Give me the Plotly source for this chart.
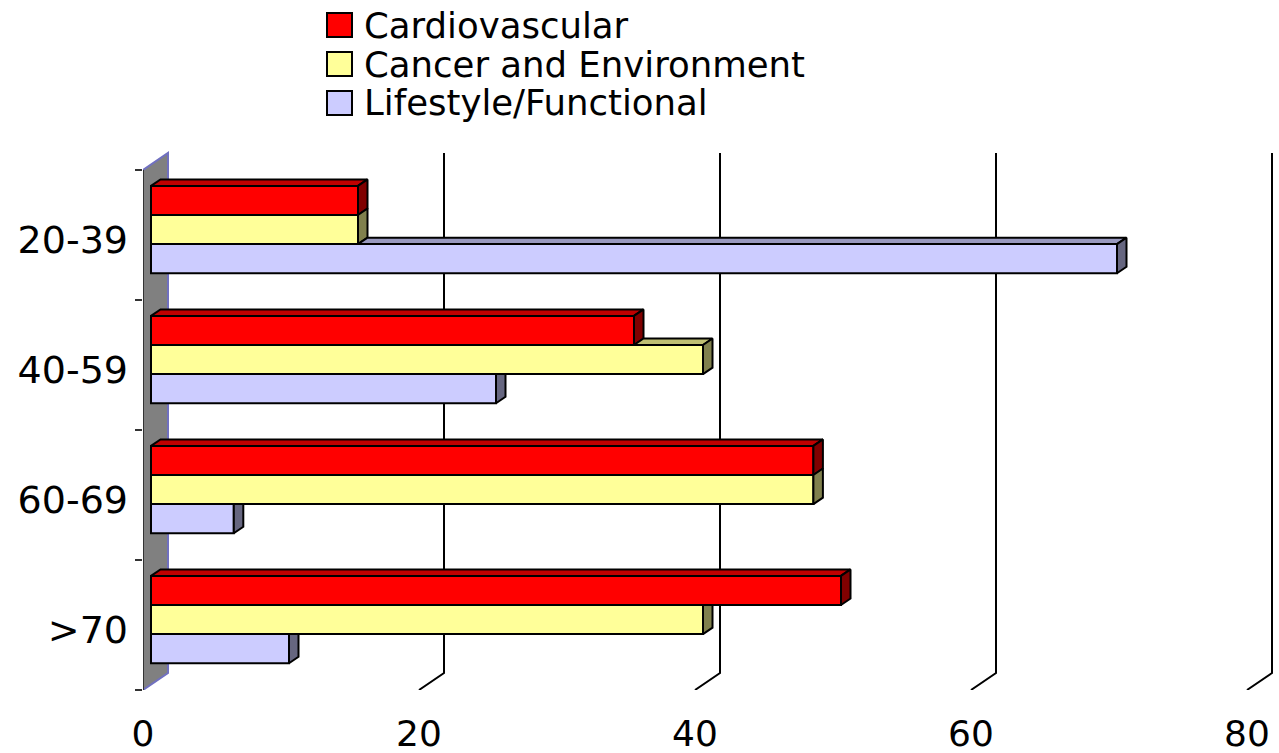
import plotly.graph_objects as go

# data
categories = ["20-39", "40-59", "60-69", ">70"]
cardiovascular = [15, 35, 48, 50]
cancer_environment = [15, 40, 48, 40]
lifestyle_functional = [70, 25, 6, 10]
series_names = ["Cardiovascular", "Cancer and Environment", "Lifestyle/Functional"]
x_ticks = [0, 20, 40, 60, 80]

series_values = [cardiovascular, cancer_environment, lifestyle_functional]
front_colors = ["#FF0000", "#FFFF99", "#CCCCFF"]
top_colors = ["#C00000", "#BFBF73", "#9999BF"]
side_colors = ["#800000", "#80804D", "#666680"]

# plot geometry (pixels)
W, H_FIG = 1279, 753
ML, MR, MT, MB = 143, 0, 140, 63
PX_X = 13.8        # px per x unit
PX_Y = 130.0       # px per category
plot_w = W - ML - MR
plot_h = H_FIG - MT - MB
x_range = [0, plot_w / PX_X]
y_range = [-0.5, -0.5 + plot_h / PX_Y]

# 3d depth offsets in data units
DX = 25 / PX_X
DY = 17 / PX_Y
D1, D2 = 0.32, 0.70
DD = D2 - D1
BAR_H = 0.224
LW = 2

n = len(categories)
pos = [n - 1 - i for i in range(n)]
y_lo, y_hi = -0.5, n - 0.5
x0 = D1 * DX

fig = go.Figure()

# front faces
for j in range(3):
    centers = [p + D1 * DY + (1 - j) * BAR_H for p in pos]
    fig.add_trace(go.Bar(
        y=centers, x=series_values[j], base=x0, width=BAR_H,
        orientation="h", name=series_names[j], showlegend=False,
        marker=dict(color=front_colors[j], line=dict(color="black", width=LW)),
        hoverinfo="skip"
    ))

# top and side faces
for j in range(3):
    tx, ty, sx, sy = [], [], [], []
    for i, p in enumerate(pos):
        v = series_values[j][i]
        c = p + D1 * DY + (1 - j) * BAR_H
        yt, yb = c + BAR_H / 2, c - BAR_H / 2
        above = series_values[j - 1][i] if j > 0 else None
        start = 0 if above is None else above
        if start < v:
            tx += [x0 + start, x0 + v, x0 + v + DD * DX, x0 + start + DD * DX, x0 + start, None]
            ty += [yt, yt, yt + DD * DY, yt + DD * DY, yt, None]
        a = x0 + v
        if above is not None and above > v:
            sx += [a, a, a + DD * DX, a + DD * DX, a, None]
            sy += [yb, yt, yt, yb + DD * DY, yb, None]
        else:
            sx += [a, a, a + DD * DX, a + DD * DX, a, None]
            sy += [yb, yt, yt + DD * DY, yb + DD * DY, yb, None]
    fig.add_trace(go.Scatter(x=tx, y=ty, mode="lines", fill="toself",
                             fillcolor=top_colors[j], line=dict(color="black", width=LW),
                             showlegend=False, hoverinfo="skip"))
    fig.add_trace(go.Scatter(x=sx, y=sy, mode="lines", fill="toself",
                             fillcolor=side_colors[j], line=dict(color="black", width=LW),
                             showlegend=False, hoverinfo="skip"))

shapes = []
# gridlines on back wall + floor
for v in x_ticks[1:]:
    path = f"M{v},{y_lo} L{v + DX},{y_lo + DY} L{v + DX},{y_hi + DY}"
    shapes.append(dict(type="path", path=path, xref="x", yref="y", layer="below",
                       line=dict(color="black", width=LW)))
# left wall
wall = f"M0,{y_lo} L{DX},{y_lo + DY} L{DX},{y_hi + DY} L0,{y_hi} Z"
shapes.append(dict(type="path", path=wall, xref="x", yref="y", layer="below",
                   fillcolor="#808080", line=dict(color="#7070C0", width=LW)))
shapes.append(dict(type="line", x0=0, x1=0, y0=y_lo, y1=y_hi, xref="x", yref="y",
                   layer="below", line=dict(color="#333333", width=2)))


# manual legend (pixel positions -> paper)
def px_x(px):
    return (px - ML) / plot_w


def px_y(py):
    return (H_FIG - MB - py) / plot_h


annotations = []
for j, name in enumerate(series_names):
    cy = 25 + j * 39
    shapes.append(dict(type="rect", xref="paper", yref="paper",
                       x0=px_x(327), x1=px_x(352), y0=px_y(cy - 12), y1=px_y(cy + 12),
                       fillcolor=front_colors[j], line=dict(color="black", width=LW)))
    annotations.append(dict(text=name, xref="paper", yref="paper", x=px_x(362), y=px_y(cy),
                            xanchor="left", yanchor="middle", showarrow=False,
                            font=dict(size=35.5, color="black")))

fig.update_layout(
    width=W, height=H_FIG,
    margin=dict(l=ML, r=MR, t=MT, b=MB),
    barmode="overlay",
    plot_bgcolor="white", paper_bgcolor="white",
    font=dict(family="DejaVu Sans", color="black"),
    shapes=shapes, annotations=annotations,
    showlegend=False,
    xaxis=dict(range=x_range, tickvals=x_ticks, ticks="", showgrid=False, zeroline=False,
               showline=False, tickfont=dict(size=36), ticklabelstandoff=19, automargin=False),
    yaxis=dict(range=y_range, tickvals=[p - 0.035 for p in pos], ticktext=categories,
               ticks="", showgrid=False, zeroline=False, showline=False,
               tickfont=dict(size=38), ticklabelstandoff=14, automargin=False,
               minor=dict(tickvals=[k - 0.5 for k in range(n + 1)], ticks="outside",
                          ticklen=7, tickwidth=1.5, tickcolor="#333333", showgrid=False)),
)

fig.write_html("out.html", config={"displayModeBar": False},
               post_script="document.body.style.margin='0';")
